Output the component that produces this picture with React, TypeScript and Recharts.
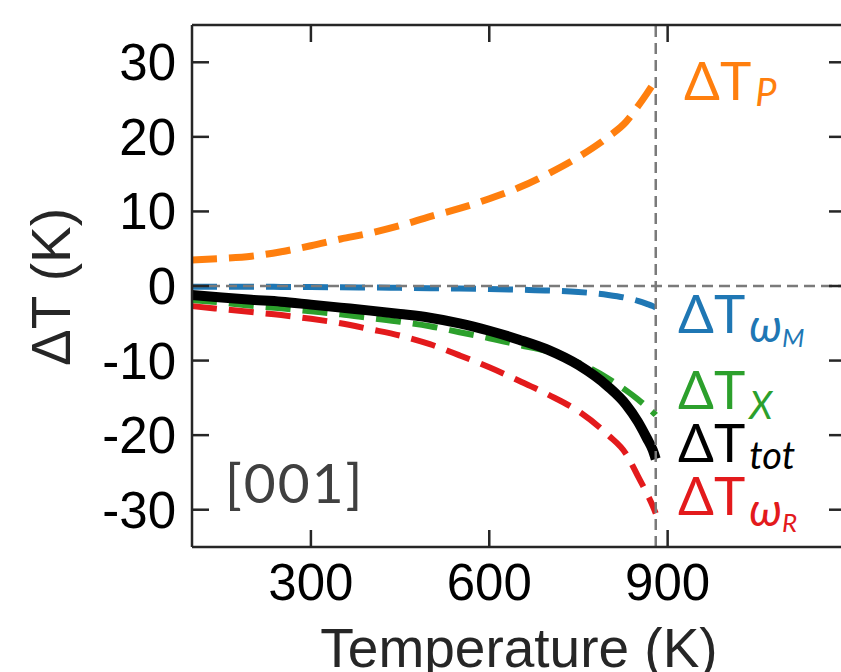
import React from 'react';
import { LineChart, Line, XAxis, YAxis, ReferenceLine } from 'recharts';

// temperature grid (K) and the five contributions (K)
const temps = [100, 150, 200, 250, 300, 350, 400, 450, 500, 550, 600, 650, 700, 750, 800, 830, 850, 865, 875, 880];
const dtP = [3.5, 3.7, 4.0, 4.6, 5.4, 6.3, 7.1, 8.1, 9.3, 10.4, 11.7, 13.2, 15.1, 17.3, 20.0, 22.0, 24.1, 25.8, 27.0, 27.6];
const dtOmegaM = [-0.1, -0.1, -0.1, -0.12, -0.15, -0.17, -0.2, -0.25, -0.3, -0.35, -0.4, -0.5, -0.6, -0.8, -1.2, -1.6, -2.0, -2.4, -2.7, -2.9];
const dtX = [-1.9, -2.2, -2.65, -3.0, -3.4, -3.8, -4.3, -4.8, -5.4, -6.2, -7.0, -7.9, -8.8, -10.3, -12.4, -14.0, -15.2, -16.2, -16.9, -17.3];
const dtOmegaR = [-2.7, -3.1, -3.5, -3.9, -4.4, -5.0, -5.8, -6.65, -7.8, -9.3, -10.9, -12.7, -14.6, -16.8, -20.0, -22.5, -25.5, -27.8, -29.5, -30.5];
const dtTot = [-1.2, -1.55, -1.85, -2.1, -2.5, -2.9, -3.3, -3.75, -4.25, -5.0, -6.0, -7.2, -8.6, -10.6, -13.5, -15.9, -18.2, -20.4, -22.0, -23.2];

const xTicks = [300, 600, 900];
const yTicks = [-30, -20, -10, 0, 10, 20, 30];
const xDomain = [100, 1200];
const yDomain = [-35, 35];
const transitionT = 880;

const data = temps.map((t, i) => ({
  t,
  p: dtP[i],
  wm: dtOmegaM[i],
  x: dtX[i],
  wr: dtOmegaR[i],
  tot: dtTot[i],
}));

const AXIS = '#262626';
const GUIDE = '#7a7a7a';
const TICK_FONT = "'Liberation Sans', Arial, sans-serif";
const NOTE_FONT = "Lato, 'Noto Sans', sans-serif";
const TL = 17;
const frame = { stroke: AXIS, strokeWidth: 2.5 };

const LeftLabel = ({ x, y, payload }: any) => (
  <text x={x - 16} y={y + 18} textAnchor="end" fontSize={51} fontFamily={TICK_FONT} fill="#000">
    {payload.value}
  </text>
);

const BottomLabel = ({ x, y, payload }: any) => (
  <text x={x} y={y + 53} textAnchor="middle" fontSize={51} fontFamily={TICK_FONT} fill="#000">
    {payload.value}
  </text>
);

// inward tick marks on both vertical spines (drawn from a reference line's end points)
const YTickMarks = ({ x1, x2, y1 }: any) => {
  const l = Math.min(x1, x2);
  const r = Math.max(x1, x2);
  return (
    <g>
      <line x1={l} x2={l + TL} y1={y1} y2={y1} stroke={AXIS} strokeWidth={2.5} />
      <line x1={r - TL} x2={r} y1={y1} y2={y1} stroke={AXIS} strokeWidth={2.5} />
    </g>
  );
};

// inward tick marks on the top and bottom spines
const XTickMarks = ({ x1, y1, y2 }: any) => {
  const t = Math.min(y1, y2);
  const b = Math.max(y1, y2);
  return (
    <g>
      <line x1={x1} x2={x1} y1={t} y2={t + TL} stroke={AXIS} strokeWidth={2.5} />
      <line x1={x1} x2={x1} y1={b - TL} y2={b} stroke={AXIS} strokeWidth={2.5} />
    </g>
  );
};

const dash = '25 12';

export default function App() {
  return (
    <div style={{ position: 'absolute', left: 0, top: 0, width: 841, height: 672, overflow: 'hidden', background: '#fff' }}>
      <LineChart width={900} height={672} data={data} margin={{ top: 25, right: 54, bottom: 0, left: 0 }}>
        <XAxis
          dataKey="t"
          type="number"
          domain={xDomain}
          ticks={xTicks}
          height={125}
          tickSize={0}
          tickMargin={0}
          tickLine={false}
          tick={<BottomLabel />}
          axisLine={frame}
        />
        <YAxis
          type="number"
          domain={yDomain}
          ticks={yTicks}
          width={192}
          tickSize={0}
          tickMargin={0}
          tickLine={false}
          tick={<LeftLabel />}
          axisLine={frame}
        />
        <Line type="monotone" dataKey="p" stroke="#ff7f0e" strokeWidth={7} strokeDasharray={dash} dot={false} isAnimationActive={false} />
        <Line type="monotone" dataKey="wm" stroke="#1f77b4" strokeWidth={6} strokeDasharray={dash} dot={false} isAnimationActive={false} />
        <Line type="monotone" dataKey="x" stroke="#2ca02c" strokeWidth={6} strokeDasharray={dash} dot={false} isAnimationActive={false} />
        <Line type="monotone" dataKey="wr" stroke="#e31a1c" strokeWidth={6} strokeDasharray={dash} dot={false} isAnimationActive={false} />
        <Line type="monotone" dataKey="tot" stroke="#000" strokeWidth={10} dot={false} isAnimationActive={false} />
        <ReferenceLine y={0} stroke={GUIDE} strokeWidth={2.5} strokeDasharray="11 6" />
        <ReferenceLine x={transitionT} stroke={GUIDE} strokeWidth={2.5} strokeDasharray="11 6" />

        {/* closed frame: top and right spines with inward ticks */}
        <ReferenceLine y={yDomain[1]} stroke={AXIS} strokeWidth={2.5} />
        <ReferenceLine x={xDomain[1]} stroke={AXIS} strokeWidth={2.5} />
        {yTicks.map((v) => (
          <ReferenceLine key={`yt-${v}`} y={v} shape={YTickMarks} />
        ))}
        {xTicks.map((v) => (
          <ReferenceLine key={`xt-${v}`} x={v} shape={XTickMarks} />
        ))}
      </LineChart>

      <svg width={841} height={672} style={{ position: 'absolute', left: 0, top: 0, pointerEvents: 'none' }}>
        <text x={519} y={667} textAnchor="middle" fontSize={55} fontFamily={TICK_FONT} fill={AXIS}>
          Temperature (K)
        </text>
        <text x={70} y={287} textAnchor="middle" fontSize={55} fontFamily={TICK_FONT} fill={AXIS} transform="rotate(-90, 70, 287)">
          ΔT (K)
        </text>
        <text x={225} y={503} fontSize={55} fontFamily={NOTE_FONT} fill="#404040" letterSpacing={2}>
          [001]
        </text>

        <g fontFamily={NOTE_FONT} fontSize={53}>
          <text x={684} y={100} fill="#ff7f0e">
            ΔT<tspan fontSize={38} fontStyle="italic" dy={6} dx={4}>P</tspan>
          </text>
          <text x={678} y={333} fill="#1f77b4">
            ΔT<tspan fontSize={46} fontStyle="italic" dy={9} dx={4}>ω</tspan>
            <tspan fontSize={26} fontStyle="italic" dy={5}>M</tspan>
          </text>
          <text x={678} y={409} fill="#2ca02c">
            ΔT<tspan fontSize={38} fontStyle="italic" dy={10} dx={4}>X</tspan>
          </text>
          <text x={678} y={462} fill="#000">
            ΔT<tspan fontSize={38} fontStyle="italic" dy={7} dx={4}>tot</tspan>
          </text>
          <text x={678} y={515} fill="#e31a1c">
            ΔT<tspan fontSize={46} fontStyle="italic" dy={11} dx={4}>ω</tspan>
            <tspan fontSize={26} fontStyle="italic" dy={6}>R</tspan>
          </text>
        </g>
      </svg>
    </div>
  );
}
